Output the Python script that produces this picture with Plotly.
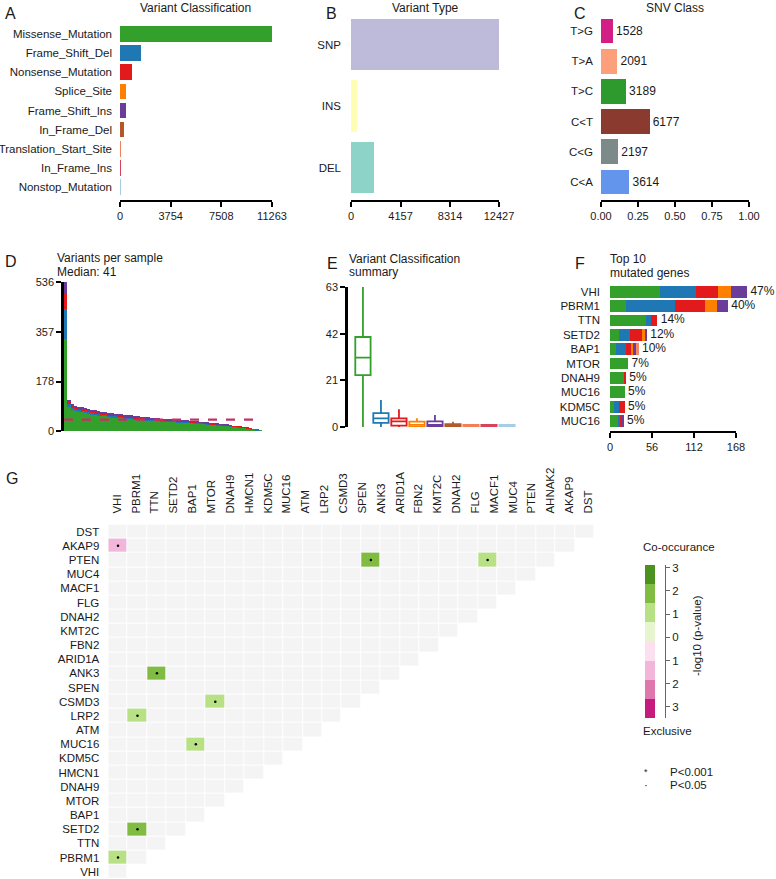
import plotly.graph_objects as go

W, H = 776, 879
FONT = "Liberation Sans, Arial, Helvetica, sans-serif"
INK = "#1a1a1a"


def fx(a, b):
    return [a / W, b / W]


def fy(top, bottom):
    return [1 - bottom / H, 1 - top / H]


# ---------------- A: Variant Classification ----------------
vc_classes = ["Missense_Mutation", "Frame_Shift_Del", "Nonsense_Mutation", "Splice_Site",
              "Frame_Shift_Ins", "In_Frame_Del", "Translation_Start_Site", "In_Frame_Ins",
              "Nonstop_Mutation"]
vc_counts = [11263, 1580, 870, 450, 420, 270, 25, 20, 8]
vc_colors = ["#33A02C", "#1F78B4", "#E31A1C", "#FF7F00", "#6A3D9A", "#B15928",
             "#F0805A", "#D6435C", "#A6CEE3"]
vc_ticks = [0, 3754, 7508, 11263]

# ---------------- B: Variant Type ----------------
vt_types = ["SNP", "INS", "DEL"]
vt_counts = [12427, 480, 1900]
vt_colors = ["#BEBADA", "#FFFFB3", "#8DD3C7"]
vt_ticks = [0, 4157, 8314, 12427]

# ---------------- C: SNV Class ----------------
snv_classes = ["T>G", "T>A", "T>C", "C<T", "C<G", "C<A"]
snv_counts = [1528, 2091, 3189, 6177, 2197, 3614]
snv_colors = ["#D11F86", "#FCA07C", "#2E9A2E", "#8B3A2F", "#7D8A8A", "#6495ED"]
snv_ticks = [0, 0.25, 0.5, 0.75, 1.0]
snv_ticktext = ["0.00", "0.25", "0.50", "0.75", "1.00"]

# ---------------- D: Variants per sample ----------------
sample_missense = [330, 88, 76, 72, 69, 67, 65, 62, 61, 58, 57, 55, 54, 52, 50, 50, 48, 47, 46, 45,
                   44, 42, 42, 41, 39, 38, 38, 37, 36, 35, 34, 34, 33, 33, 32, 31, 30, 30, 29, 28,
                   27, 26, 26, 25, 23, 22, 21, 21, 19, 18, 17, 15, 14, 12, 11, 9, 7, 6, 3, 2]
sample_fsd = [110, 12, 10, 9, 8, 8, 7, 7, 7, 6, 6, 6, 6, 5, 5, 5, 5, 5, 4, 4,
              4, 4, 4, 4, 4, 4, 3, 3, 3, 3, 3, 3, 3, 3, 3, 3, 3, 3, 3, 3,
              3, 3, 2, 2, 2, 2, 2, 2, 2, 2, 2, 2, 2, 2, 1, 1, 1, 1, 1, 0]
sample_nonsense = [56, 7, 6, 5, 5, 5, 5, 5, 4, 5, 4, 4, 3, 4, 4, 3, 3, 3, 3, 3,
                   3, 3, 3, 3, 3, 3, 3, 3, 3, 3, 3, 2, 3, 2, 2, 2, 2, 2, 2, 2,
                   2, 2, 2, 2, 2, 2, 2, 1, 1, 1, 1, 1, 1, 1, 1, 1, 1, 0, 0, 0]
sample_other = [40, 5, 4, 4, 4, 3, 3, 3, 3, 3, 3, 3, 3, 3, 3, 3, 3, 3, 3, 3,
                3, 3, 2, 2, 2, 2, 2, 2, 2, 2, 2, 2, 2, 2, 2, 2, 2, 1, 1, 1,
                1, 1, 1, 1, 1, 1, 1, 1, 1, 1, 0, 0, 0, 0, 1, 0, 0, 0, 0, 0]
median_variants = 41
vps_ticks = [0, 178, 357, 536]

# ---------------- E: Variant Classification summary ----------------
box_q1 = [23.3, 1.9, 0.6, 0.0, 0.2, 0.0, 0.0, 0.0, 0.0]
box_median = [31.2, 3.9, 2.5, 1.0, 1.0, 0.5, 0.0, 0.0, 0.0]
box_q3 = [40.5, 6.2, 3.9, 2.4, 2.5, 1.3, 1.0, 1.0, 1.0]
box_low = [0, 0, 0, 0, 0, 0, 0, 0, 0]
box_high = [63, 12.2, 8.0, 3.9, 5.4, 2.4, 1.0, 1.0, 1.0]
box_ticks = [0, 21, 42, 63]

# ---------------- F: Top 10 mutated genes ----------------
top_genes = ["VHI", "PBRM1", "TTN", "SETD2", "BAP1", "MTOR", "DNAH9", "MUC16", "KDM5C", "MUC16"]
gene_missense = [67, 21, 48, 12, 8, 24, 19, 19.5, 5, 11]
gene_fsd = [47, 65, 6, 14, 13, 0, 0, 0, 7, 2]
gene_nonsense = [30, 40, 9, 16, 7, 0, 2, 0, 7.5, 3]
gene_splice = [17, 17, 0, 4, 3, 0, 0, 0, 0, 0]
gene_fsi = [21.6, 14, 0, 3, 3, 0, 0, 0, 0, 2]
gene_tss = [0, 0, 0, 0, 4, 0, 0, 0, 0, 0]
gene_pct = ["47%", "40%", "14%", "12%", "10%", "7%", "5%", "5%", "5%", "5%"]
gene_ticks = [0, 56, 112, 168]

# ---------------- G: somatic interactions ----------------
g_rows = ["DST", "AKAP9", "PTEN", "MUC4", "MACF1", "FLG", "DNAH2", "KMT2C", "FBN2", "ARID1A",
          "ANK3", "SPEN", "CSMD3", "LRP2", "ATM", "MUC16", "KDM5C", "HMCN1", "DNAH9", "MTOR",
          "BAP1", "SETD2", "TTN", "PBRM1", "VHI"]
g_col_labels = ["VHI", "PBRM1", "TTN", "SETD2", "BAP1", "MTOR", "DNAH9", "HMCN1", "KDM5C", "MUC16",
                "ATM", "LRP2", "CSMD3", "SPEN", "ANK3", "ARID1A", "FBN2", "KMT2C", "DNAH2", "FLG",
                "MACF1", "MUC4", "PTEN", "AHNAK2", "AKAP9", "DST"]
sig_rows = ["AKAP9", "PTEN", "PTEN", "ANK3", "CSMD3", "LRP2", "MUC16", "SETD2", "PBRM1"]
sig_cols = ["VHI", "SPEN", "FLG", "TTN", "MTOR", "PBRM1", "BAP1", "PBRM1", "VHI"]
sig_level = [-1, 2, 1, 2, 1, 1, 1, 2, 1]
level_values = [-3, -2, -1, 0, 1, 2, 3]
level_colors = ["#C51B7D", "#DE77AE", "#F1B6DA", "#F4F4F4", "#B8E186", "#7FBC41", "#4D9221"]
legend_colors = ["#4D9221", "#7FBC41", "#B8E186", "#E6F5D0", "#FDE0EF", "#F1B6DA", "#DE77AE", "#C51B7D"]
legend_labels = ["3", "2", "1", "0", "1", "2", "3"]

traces = []

# A
traces.append(go.Bar(x=vc_counts, y=vc_classes, orientation="h", width=0.82,
                     marker=dict(color=vc_colors, line=dict(width=0)),
                     xaxis="x", yaxis="y"))
# B
traces.append(go.Bar(x=vt_counts, y=vt_types, orientation="h", width=0.83,
                     marker=dict(color=vt_colors, line=dict(width=0)),
                     xaxis="x2", yaxis="y2"))
# C
snv_total = sum(snv_counts)
snv_frac = [c / snv_total for c in snv_counts]
traces.append(go.Bar(x=snv_frac, y=snv_classes, orientation="h", width=0.82,
                     marker=dict(color=snv_colors, line=dict(width=0)),
                     text=[str(c) for c in snv_counts], textposition="outside",
                     textfont=dict(size=12, color=INK), cliponaxis=False,
                     xaxis="x3", yaxis="y3"))
# D
n_samples = len(sample_missense)
for vals, col in [(sample_missense, "#33A02C"), (sample_fsd, "#1F78B4"),
                  (sample_nonsense, "#E31A1C"), (sample_other, "#6A3D9A")]:
    traces.append(go.Bar(x=list(range(n_samples)), y=vals, width=1.0,
                         marker=dict(color=col, line=dict(width=0)),
                         xaxis="x4", yaxis="y4"))
# E
for i, cls in enumerate(vc_classes):
    traces.append(go.Box(x=[cls], q1=[box_q1[i]], median=[box_median[i]], q3=[box_q3[i]],
                         lowerfence=[box_low[i]], upperfence=[box_high[i]],
                         line=dict(color=vc_colors[i], width=1.8), fillcolor="white",
                         width=0.85, whiskerwidth=0, boxpoints=False,
                         xaxis="x5", yaxis="y5"))
# F
gene_pos = list(range(len(top_genes)))
for vals, col in [(gene_missense, "#33A02C"), (gene_fsd, "#1F78B4"), (gene_nonsense, "#E31A1C"),
                  (gene_splice, "#FF7F00"), (gene_fsi, "#6A3D9A"), (gene_tss, "#F4866A")]:
    traces.append(go.Bar(x=vals, y=gene_pos, orientation="h", width=0.82,
                         marker=dict(color=col, line=dict(width=0)),
                         xaxis="x6", yaxis="y6"))
gene_totals = [sum(v) for v in zip(gene_missense, gene_fsd, gene_nonsense, gene_splice, gene_fsi, gene_tss)]
traces.append(go.Scatter(x=gene_totals, y=gene_pos, mode="markers+text", text=gene_pct,
                         marker=dict(size=4, color="rgba(0,0,0,0)"),
                         textposition="middle right", textfont=dict(size=12, color=INK),
                         cliponaxis=False, xaxis="x6", yaxis="y6"))

# G heatmap
cell_cols = g_rows[::-1]
n_rows = len(g_rows)
z_bg = [[1 if j < n_rows - i else None for j in range(n_rows)] for i in range(n_rows)]
traces.append(go.Heatmap(z=z_bg, x=list(range(n_rows)), y=list(range(n_rows)),
                         colorscale=[[0, "#F4F4F4"], [1, "#F4F4F4"]], showscale=False,
                         xgap=1, ygap=1, hoverinfo="skip", xaxis="x7", yaxis="y7"))
z_sig = [[None] * n_rows for _ in range(n_rows)]
sig_x, sig_y = [], []
for r, c, lv in zip(sig_rows, sig_cols, sig_level):
    ri, ci = g_rows.index(r), cell_cols.index(c)
    z_sig[ri][ci] = lv
    sig_x.append(ci)
    sig_y.append(ri)
cs = []
nl = len(level_colors)
for k, c in enumerate(level_colors):
    cs += [[k / nl, c], [(k + 1) / nl, c]]
traces.append(go.Heatmap(z=z_sig, x=list(range(n_rows)), y=list(range(n_rows)),
                         colorscale=cs, zmin=min(level_values) - 0.5, zmax=max(level_values) + 0.5,
                         showscale=False, xgap=1, ygap=1, xaxis="x7", yaxis="y7"))
traces.append(go.Scatter(x=sig_x, y=sig_y, mode="markers",
                         marker=dict(size=2.5, color="black"), xaxis="x7", yaxis="y7"))

# G legend blocks
nb = len(legend_colors)
cs2 = []
for k, c in enumerate(legend_colors):
    cs2 += [[k / nb, c], [(k + 1) / nb, c]]
traces.append(go.Heatmap(z=[[k] for k in range(nb)], x=[0], y=list(range(nb)),
                         colorscale=cs2, zmin=-0.5, zmax=nb - 0.5, showscale=False,
                         hoverinfo="skip", xaxis="x9", yaxis="y9"))

fig = go.Figure(traces)

base_x = dict(showgrid=False, zeroline=False, showline=True, linecolor="black", linewidth=2,
              ticks="outside", ticklen=5, tickwidth=2, tickcolor="black", automargin=False,
              tickfont=dict(size=11, color=INK))
base_cat = dict(showgrid=False, zeroline=False, showline=False, ticks="", automargin=False,
                tickfont=dict(size=11.5, color=INK), ticklabelstandoff=7)

ann = []


def text(t, x, y, size=12, xanchor="left", yanchor="middle", **kw):
    ann.append(dict(text=t, x=x / W, y=1 - y / H, xref="paper", yref="paper",
                    xanchor=xanchor, yanchor=yanchor, showarrow=False,
                    font=dict(size=size, color=INK, family=FONT), **kw))


# legend label positions (in block units): labels spaced slightly wider than blocks
lab_step = 23.17 / 19.1
lab_start = 2.7 / 19.1 - 0.5

layout = dict(
    template="none",
    width=W, height=H, margin=dict(l=0, r=0, t=0, b=0, autoexpand=False),
    paper_bgcolor="white", plot_bgcolor="white", showlegend=False,
    barmode="stack", boxmode="overlay", font=dict(family=FONT, color=INK),
    # A
    xaxis=dict(base_x, domain=fx(120, 272), range=[0, max(vc_ticks)], tickvals=vc_ticks,
               ticktext=[str(v) for v in vc_ticks], anchor="y"),
    yaxis=dict(base_cat, domain=fy(24.5, 200), type="category", categoryorder="array",
               categoryarray=vc_classes, range=[8.68, -0.5], anchor="x"),
    # B
    xaxis2=dict(base_x, domain=fx(351, 499), range=[0, max(vt_ticks)], tickvals=vt_ticks,
                ticktext=[str(v) for v in vt_ticks], anchor="y2"),
    yaxis2=dict(base_cat, domain=fy(13.75, 199.5), type="category", categoryorder="array",
                categoryarray=vt_types, range=[2.52, -0.5], anchor="x2", ticklabelstandoff=9),
    # C
    xaxis3=dict(base_x, domain=fx(601, 749), range=[0, 1], tickvals=snv_ticks,
                ticktext=snv_ticktext, anchor="y3"),
    yaxis3=dict(base_cat, domain=fy(15.9, 199.5), type="category", categoryorder="array",
                categoryarray=snv_classes, range=[5.58, -0.5], anchor="x3"),
    # D
    xaxis4=dict(domain=fx(64, 262), range=[-0.5, n_samples - 0.5], visible=False, anchor="y4"),
    yaxis4=dict(base_x, domain=fy(282, 431), range=[0, max(vps_ticks)], tickvals=vps_ticks,
                ticktext=[str(v) for v in vps_ticks], linewidth=2.5, anchor="x4"),
    # E
    xaxis5=dict(domain=fx(348, 516), range=[-0.83, 8.5], visible=False, type="category",
                categoryorder="array", categoryarray=vc_classes, anchor="y5"),
    yaxis5=dict(base_x, domain=fy(287, 427), range=[0, max(box_ticks)], tickvals=box_ticks,
                ticktext=[str(v) for v in box_ticks], linewidth=2.5, anchor="x5"),
    # F
    xaxis6=dict(base_x, domain=fx(610, 760), range=[0, 200], tickvals=gene_ticks,
                ticktext=[str(v) for v in gene_ticks], showline=False, anchor="y6"),
    yaxis6=dict(base_cat, domain=fy(284.5, 432), range=[9.76, -0.5], tickvals=gene_pos,
                ticktext=top_genes, anchor="x6", ticklabelstandoff=9),
    # G
    xaxis7=dict(domain=fx(108.3, 594.6), range=[-0.5, n_rows - 0.5], side="top",
                tickvals=[-0.05 + i * 0.969 for i in range(len(g_col_labels))],
                ticktext=g_col_labels, tickangle=-90, showgrid=False, zeroline=False,
                showline=False, ticks="", tickfont=dict(size=11.5, color=INK), automargin=False,
                ticklabelstandoff=10, anchor="y7"),
    yaxis7=dict(domain=fy(524.6, 878.8), range=[n_rows - 0.5, -0.5], tickvals=list(range(n_rows)),
                ticktext=g_rows, showgrid=False, zeroline=False, showline=False, ticks="",
                automargin=False, tickfont=dict(size=11.5, color=INK), ticklabelstandoff=8,
                anchor="x7"),
    # G legend
    xaxis9=dict(domain=fx(645, 655), range=[-0.5, 0.5], visible=False, anchor="y9",
                automargin=False),
    yaxis9=dict(domain=fy(565, 718), range=[nb - 0.5, -0.5], anchor="free", position=665 / W,
                side="right", tickvals=[lab_start + k * lab_step for k in range(len(legend_labels))],
                ticktext=legend_labels, ticks="outside", ticklen=4, tickcolor="#666",
                showline=True, linecolor="#666", linewidth=1, showgrid=False, zeroline=False,
                automargin=False, tickfont=dict(size=11.5, color=INK)),
)

shapes = [
    dict(type="line", xref="x4 domain", yref="y4", x0=0, x1=1, y0=median_variants, y1=median_variants,
         line=dict(color="#C2306A", width=2.2, dash="dash")),
    dict(type="line", xref="x6", yref="y6 domain", x0=gene_ticks[0], x1=gene_ticks[-1], y0=0, y1=0,
         line=dict(color="black", width=2)),
]

# panel letters
text("A", 3, 13, 16)
text("B", 324, 13, 16)
text("C", 572, 13, 16)
text("D", 3, 262, 16)
text("E", 325, 263, 16)
text("F", 573, 263, 16)
text("G", 4, 479, 16)
# titles
text("Variant Classification", 195, 8, 12, xanchor="center")
text("Variant Type", 425, 8, 12, xanchor="center")
text("SNV Class", 675, 8, 12, xanchor="center")
text("Variants per sample", 55, 258, 12)
text("Median: " + str(median_variants), 55, 272, 12)
text("Variant Classification", 347, 259, 12)
text("summary", 347, 272, 12)
text("Top 10", 608, 259, 12)
text("mutated genes", 608, 273, 12)
# G legend texts
text("Co-occurance", 641, 547, 11.5)
text("Exclusive", 641, 731, 11.5)
text("-log10 (p-value)", 697, 636, 11.5, xanchor="center", textangle=-90)
text("*", 642, 772, 9)
text("P<0.001", 668, 772, 11.5)
text("·", 642, 785, 11.5)
text("P<0.05", 668, 785, 11.5)

layout["annotations"] = ann
layout["shapes"] = shapes
fig.update_layout(**layout)
fig.write_html(
    "out.html",
    config={"displayModeBar": False},
    post_script=("document.body.style.margin='0';document.body.style.padding='0';"
                 "document.documentElement.style.overflow='hidden';"),
)
